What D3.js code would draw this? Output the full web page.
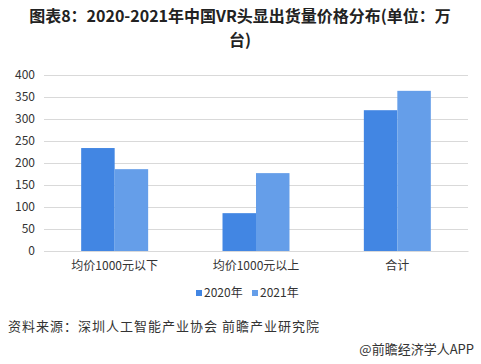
<!DOCTYPE html>
<html>
<head>
<meta charset="utf-8">
<script src="https://cdn.jsdelivr.net/npm/d3@7"></script>
<style>
  body { margin: 0; background: #fff; }
  svg text { font-family: "Microsoft YaHei", "Noto Sans CJK SC", sans-serif; }
</style>
</head>
<body>
<svg width="481" height="364"></svg>
<script>
'use strict';
(() => {

var categories = ['均价1000元以下', '均价1000元以上', '合计'];
var series = ['2020年', '2021年'];
var values2020 = [234, 86, 320];
var values2021 = [186, 177, 364];
var yTicks = [0, 50, 100, 150, 200, 250, 300, 350, 400];
var colors = ['#4286e3', '#659ee9'];

var svg = d3.select('svg');
var left = 44, right = 468, top = 75, bottom = 251;

var y = d3.scaleLinear().domain([0, 400]).range([bottom, top]);
var x0 = d3.scaleBand().domain(categories).range([left, right]);
var x1 = d3.scaleBand().domain(series).range([0, x0.bandwidth()])
  .paddingInner(0).paddingOuter(1.11);

// title, two lines
svg.append('text').attr('x', 240).attr('y', 22).attr('text-anchor', 'middle')
  .attr('font-size', 16).attr('font-weight', 'bold').attr('fill', '#222')
  .text('图表8：2020-2021年中国VR头显出货量价格分布(单位：万');
svg.append('text').attr('x', 240).attr('y', 46).attr('text-anchor', 'middle')
  .attr('font-size', 16).attr('font-weight', 'bold').attr('fill', '#222')
  .text('台)');

// grid + y labels
var yAxis = svg.append('g').attr('transform', `translate(${left},0)`)
  .call(d3.axisLeft(y).tickValues(yTicks).tickSize(-(right - left)).tickPadding(9));
yAxis.select('.domain').remove();
yAxis.selectAll('line').attr('stroke', '#d9d9d9');
yAxis.selectAll('text').attr('font-size', 12).attr('fill', '#333');

// bars
var rows = categories.map((c, i) => ({cat: c, vals: [values2020[i], values2021[i]]}));
var grp = svg.append('g').selectAll('g').data(rows).enter().append('g')
  .attr('transform', d => `translate(${x0(d.cat)},0)`);
grp.selectAll('rect').data(d => d.vals.map((v, j) => ({s: series[j], v: v, j: j})))
  .enter().append('rect')
  .attr('x', d => x1(d.s))
  .attr('width', x1.bandwidth())
  .attr('y', d => y(d.v))
  .attr('height', d => bottom - y(d.v))
  .attr('fill', d => colors[d.j]);

// x axis
var xAxis = svg.append('g').attr('transform', `translate(0,${bottom})`)
  .call(d3.axisBottom(x0).tickSize(0).tickPadding(10));
xAxis.select('.domain').attr('stroke', '#d9d9d9');
xAxis.selectAll('text').attr('font-size', 12).attr('fill', '#333');

// legend
var lx = [196, 252];
series.forEach((s, i) => {
  svg.append('rect').attr('x', lx[i]).attr('y', 290).attr('width', 6).attr('height', 6)
    .attr('fill', colors[i]);
  svg.append('text').attr('x', lx[i] + 8).attr('y', 297).attr('font-size', 12)
    .attr('fill', '#333').text(s);
});

// footer
svg.append('text').attr('x', 8).attr('y', 331).attr('font-size', 13)
  .attr('fill', '#333').attr('letter-spacing', 1)
  .text('资料来源：深圳人工智能产业协会 前瞻产业研究院');
svg.append('text').attr('x', 474).attr('y', 354).attr('font-size', 13)
  .attr('text-anchor', 'end').attr('fill', '#333')
  .text('@前瞻经济学人APP');

})();
</script>
</body>
</html>
